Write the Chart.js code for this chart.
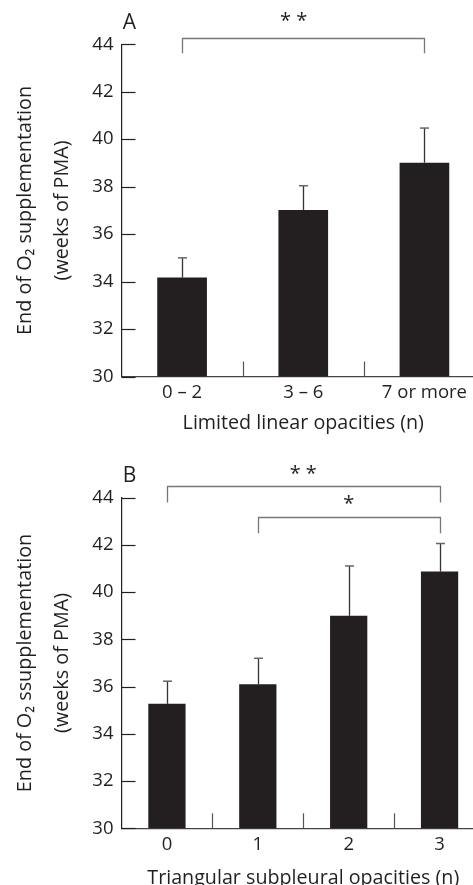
<!DOCTYPE html>
<html>
<head>
<meta charset="utf-8">
<script src="https://cdn.jsdelivr.net/npm/chart.js@4/dist/chart.umd.min.js"></script>
<style>
  html, body { margin:0; padding:0; background:#fff; overflow:hidden; }
  #wrap { position:relative; width:473px; height:885px; overflow:hidden; }
  canvas { position:absolute; left:0; }
</style>
</head>
<body>
<div id="wrap">
  <canvas id="cA" width="485" height="440" style="top:0px"></canvas>
  <canvas id="cB" width="485" height="455" style="top:440px"></canvas>
</div>
<script>
// ---- data ----
const catsA = ['0 – 2', '3 – 6', '7 or more'];
const meansA = [34.17, 37.02, 39.01];
const errTopA = [35.0, 38.04, 40.47];

const catsB = ['0', '1', '2', '3'];
const meansB = [35.27, 36.1, 39.0, 40.87];
const errTopB = [36.23, 37.2, 41.11, 42.06];

const yTicks = [30, 32, 34, 36, 38, 40, 42, 44];

const sigA = [{ from: 0, to: 2, label: '* *' }];
const sigB = [{ from: 0, to: 3, label: '* *' }, { from: 1, to: 3, label: '*' }];

// ---- annotation placement (data units) ----
const bracketPosA = [{ line: 44.28, end: 43.62, text: 45.15, tx: 0.92 }];
const bracketPosB = [{ line: 44.5, end: 43.8, text: 45.14, tx: 1.5 },
                     { line: 43.2, end: 42.49, text: 43.87, tx: 2.0 }];

const FONT = '"Open Sans", Lato, sans-serif';
const INK = '#231f20';

function makeChart(id, cats, means, errs, sig, pos, xTitle, yTitle, panel, padTop, xH, panelY) {
  const overlay = {
    id: 'overlay' + id,
    afterDraw(chart) {
      const ctx = chart.ctx;
      const xs = chart.scales.x, ys = chart.scales.y;
      const area = chart.chartArea;
      ctx.save();
      // inward y ticks
      ctx.strokeStyle = INK; ctx.lineWidth = 1.2;
      ys.ticks.forEach((t, i) => {
        const y = Math.round(ys.getPixelForTick(i)) + 0.5;
        ctx.beginPath(); ctx.moveTo(area.left, y); ctx.lineTo(area.left + 14, y); ctx.stroke();
      });
      // category separators on x axis
      ctx.strokeStyle = '#555';
      for (let i = 1; i < cats.length; i++) {
        const x = Math.round(xs.getPixelForValue(i - 0.5)) + 0.5;
        ctx.beginPath(); ctx.moveTo(x, area.bottom); ctx.lineTo(x, area.bottom - 15); ctx.stroke();
      }
      // error bars
      const meta = chart.getDatasetMeta(0);
      meta.data.forEach((bar, i) => {
        const x = Math.round(bar.x) + 0.5;
        const y0 = ys.getPixelForValue(means[i]);
        const y1 = ys.getPixelForValue(errs[i]);
        ctx.strokeStyle = '#333'; ctx.lineWidth = 1.3;
        ctx.beginPath(); ctx.moveTo(x, y0); ctx.lineTo(x, y1); ctx.stroke();
        ctx.strokeStyle = '#666'; ctx.lineWidth = 1.5;
        ctx.beginPath(); ctx.moveTo(x - 4.5, y1); ctx.lineTo(x + 4.5, y1); ctx.stroke();
      });
      // significance brackets
      sig.forEach((s, k) => {
        const p = pos[k];
        const xa = Math.round(xs.getPixelForValue(s.from)) + 0.5;
        const xb = Math.round(xs.getPixelForValue(s.to)) + 0.5;
        const yl = Math.round(ys.getPixelForValue(p.line)) + 0.5;
        const ye = ys.getPixelForValue(p.end);
        ctx.strokeStyle = '#777'; ctx.lineWidth = 1.3;
        ctx.beginPath(); ctx.moveTo(xa, ye); ctx.lineTo(xa, yl); ctx.lineTo(xb, yl); ctx.lineTo(xb, ye); ctx.stroke();
        ctx.fillStyle = INK; ctx.font = '20px ' + FONT;
        ctx.textAlign = 'center'; ctx.textBaseline = 'middle';
        ctx.fillText(s.label, xs.getPixelForValue(p.tx), ys.getPixelForValue(p.text) + 4);
      });
      // panel letter
      ctx.fillStyle = INK; ctx.font = '21px ' + FONT;
      ctx.textAlign = 'center'; ctx.textBaseline = 'middle';
      ctx.fillText(panel, area.left + 8, ys.getPixelForValue(panelY));
      ctx.restore();
    }
  };
  return new Chart(document.getElementById(id), {
    type: 'bar',
    data: { labels: cats, datasets: [{ data: means, backgroundColor: INK, borderWidth: 0,
      barPercentage: 0.41, categoryPercentage: 1.0 }] },
    options: {
      responsive: false, animation: false, devicePixelRatio: 1,
      layout: { padding: { top: padTop, left: 0, right: 0, bottom: 0 } },
      plugins: { legend: { display: false }, tooltip: { enabled: false } },
      scales: {
        x: {
          type: 'category',
          grid: { display: true, drawOnChartArea: false, drawTicks: false, offset: true, color: 'rgba(0,0,0,0)' },
          border: { display: true, color: '#444', width: 1.2 },
          ticks: { color: INK, font: { family: FONT, size: 18.5 }, padding: 5, maxRotation: 0 },
          title: { display: true, text: xTitle, color: INK, font: { family: FONT, size: 19.7 }, padding: { top: 0, bottom: 5 } },
          afterFit(s) { s.height = xH; }
        },
        y: {
          min: 30, max: 44,
          afterBuildTicks(s) { s.ticks = yTicks.map(v => ({ value: v })); },
          grid: { display: true, drawOnChartArea: false, drawTicks: false, color: 'rgba(0,0,0,0)' },
          border: { display: true, color: INK, width: 1.2 },
          ticks: { color: INK, font: { family: FONT, size: 18.5 }, padding: 8 },
          title: { display: true, text: yTitle, color: INK, font: { family: FONT, size: 19.8, lineHeight: 1.87 }, padding: { top: 6.5, bottom: 0 } },
          afterFit(s) { s.width = 121.5; }
        }
      }
    },
    plugins: [overlay]
  });
}

makeChart('cA', catsA, meansA, errTopA, sigA, bracketPosA,
  'Limited linear opacities (n)', ['End of O₂ supplementation', '(weeks of PMA)'], 'A', 44.3, 63.5, 44.9);
makeChart('cB', catsB, meansB, errTopB, sigB, bracketPosB,
  'Triangular subpleural opacities (n)', ['End of O₂ ssupplementation', '(weeks of PMA)'], 'B', 57.7, 66.7, 44.92);
</script>
</body>
</html>
